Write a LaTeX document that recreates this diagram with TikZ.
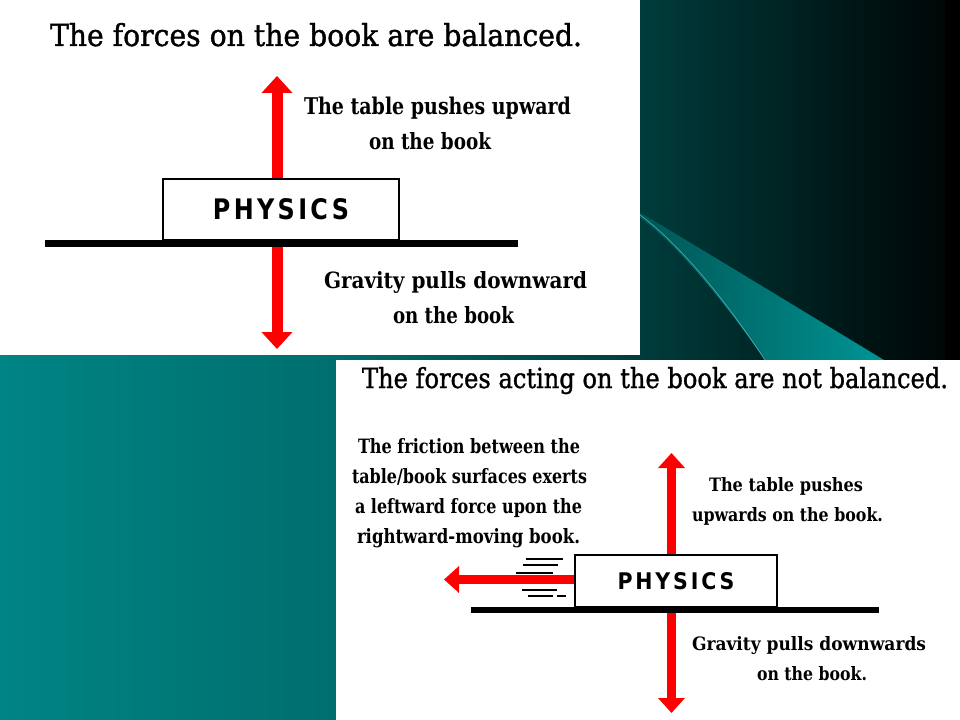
\documentclass[tikz,border=0pt]{standalone}
\usepackage{fontspec}
\usepackage{graphicx}
\usetikzlibrary{arrows.meta}
\newfontfamily\ttlfont{DejaVu Serif}[FakeBold=1.3]
\newfontfamily\lblfont{DejaVu Serif}
\newfontfamily\physfont{DejaVu Sans}[LetterSpace=14]
\newlength\pxu \setlength\pxu{0.75pt}
\newcommand\fitlbl[3]{\resizebox{#1\pxu}{#2\pxu}{#3}}
\definecolor{bgA}{RGB}{0,132,132}
\definecolor{bgB}{RGB}{0,110,110}
\definecolor{bgC}{RGB}{0,60,60}
\definecolor{bgD}{RGB}{0,6,6}
\definecolor{swA}{RGB}{0,85,85}
\definecolor{swB}{RGB}{0,148,148}
\definecolor{swHL}{RGB}{70,175,175}
\tikzset{
  txt/.style={anchor=base west, inner sep=0pt, outer sep=0pt},
  bookbox/.style={draw=black, line width=1.5pt, fill=white, inner sep=0pt},
  tablebar/.style={fill=black, inner sep=0pt, outer sep=0pt},
  bigarrow/.style={draw=red, line width=8.25pt, -{Triangle[width=22.5pt,length=12.75pt]}},
  smallarrow/.style={draw=red, line width=6.75pt, -{Triangle[width=19.5pt,length=11.25pt]}},
  speedline/.style={draw=black, line width=1.5pt},
}
\begin{document}
\begin{tikzpicture}[x=0.75pt,y=-0.75pt]
\useasboundingbox (0,0) rectangle (960,720);
% background
\fill[left color=bgA,right color=bgB] (0,0) rectangle (337,720);
\fill[left color=bgB,right color=bgC] (336,0) rectangle (641,720);
\fill[left color=bgC,right color=bgD] (640,0) rectangle (946,720);
\fill[black] (945,0) rectangle (960,720);
% swoosh
\fill[left color=swA,right color=swB] (640,212) -- (884,360) -- (765,360) .. controls (740,325) and (690,255) .. (640,218) -- cycle;
\draw[swHL, line width=0.5pt] (640,215) .. controls (690,252) and (740,322) .. (765,360);
% panels
\fill[white] (0,0) rectangle (640,355);
\fill[white] (336,360) rectangle (960,720);

% ===== top panel =====
\node[txt] (title1) at (50,46) {\fitlbl{532}{23}{\ttlfont The forces on the book are balanced.}};
\node[tablebar, minimum width=473*\pxu, minimum height=7*\pxu] (table1) at (281.5,243.5) {};
\node[bookbox, minimum width=236*\pxu, minimum height=61*\pxu] (book1) at (281,209.5) {\fitlbl{136}{21}{\physfont\bfseries PHYSICS}};
\coordinate (up1) at (277,76);
\coordinate (dn1) at (277,349);
\draw[bigarrow] (up1 |- book1.north) -- (up1);
\draw[bigarrow] (dn1 |- table1.south) -- (dn1);
\node[txt] (u1a) at (304,115) {\fitlbl{267}{17.5}{\lblfont\bfseries The table pushes upward}};
\node[txt] (u1b) at (369,150) {\fitlbl{122}{17}{\lblfont\bfseries on the book}};
\node[txt] (d1a) at (324,288.5) {\fitlbl{263}{17}{\lblfont\bfseries Gravity pulls downward}};
\node[txt] (d1b) at (393,323.5) {\fitlbl{121}{17}{\lblfont\bfseries on the book}};

% ===== bottom panel =====
\node[txt] (title2) at (362,388) {\fitlbl{586}{21}{\ttlfont The forces acting on the book are not balanced.}};
\node[txt] (f1) at (358,453) {\fitlbl{222}{15}{\lblfont\bfseries The friction between the}};
\node[txt] (f2) at (352,483) {\fitlbl{235}{15}{\lblfont\bfseries table/book surfaces exerts}};
\node[txt] (f3) at (355,513) {\fitlbl{227}{15}{\lblfont\bfseries a leftward force upon the}};
\node[txt] (f4) at (357,543) {\fitlbl{223}{15}{\lblfont\bfseries rightward-moving book.}};
\node[tablebar, minimum width=408*\pxu, minimum height=6*\pxu] (table2) at (675,609.5) {};
\node[bookbox, minimum width=202*\pxu, minimum height=52*\pxu] (book2) at (676,581) {\fitlbl{117}{17}{\physfont\bfseries PHYSICS}};
\coordinate (up2) at (671.5,453);
\coordinate (dn2) at (671.5,713);
\coordinate (lf2) at (444,579.5);
\draw[smallarrow] (up2 |- book2.north) -- (up2);
\draw[smallarrow] (dn2 |- table2.south) -- (dn2);
\draw[smallarrow] (book2.west |- lf2) -- (lf2);
% speed lines
\draw[speedline] (526,559) -- (563,559);
\draw[speedline] (523,564.5) -- (558,564.5);
\draw[speedline] (516,573) -- (553,573);
\draw[speedline] (522,589.5) -- (557,589.5);
\draw[speedline] (528,595.5) -- (553,595.5);
\draw[speedline] (557,595.5) -- (566,595.5);
\node[txt] (u2a) at (709,491) {\fitlbl{154}{14}{\lblfont\bfseries The table pushes}};
\node[txt] (u2b) at (692,521) {\fitlbl{191}{14}{\lblfont\bfseries upwards on the book.}};
\node[txt] (d2a) at (692,650) {\fitlbl{234}{14}{\lblfont\bfseries Gravity pulls downwards}};
\node[txt] (d2b) at (757,680.5) {\fitlbl{110}{14}{\lblfont\bfseries on the book.}};
\end{tikzpicture}
\end{document}
